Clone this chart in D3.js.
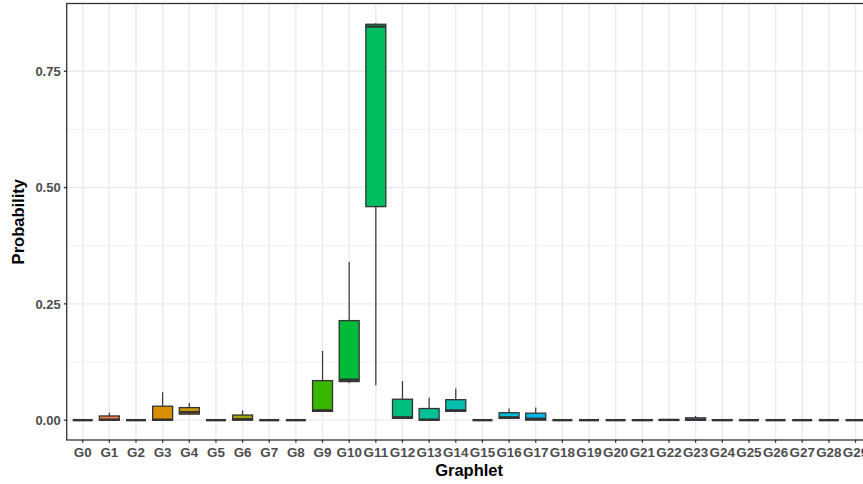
<!DOCTYPE html>
<html>
<head>
<meta charset="utf-8"/>
<script src="https://d3js.org/d3.v7.min.js"></script>
<style type="text/css">
body {
  margin: 0;
  overflow: hidden;
  background: #fff;
  font-family: "Liberation Sans", Arial, Helvetica, sans-serif;
}
</style>
</head>
<body>
<div id="v"></div>
<script type="text/javascript">
// graphlet probability boxplot
var graphlets = d3.range(30).map(function(i) { return "G" + i; });
var whiskerLow  = [0, 0,     0, 0,     0.011, 0, 0,     0, 0, 0.018, 0.080, 0.075, 0.003, 0,     0.017, 0, 0.003, 0,     0, 0, 0, 0,     0,      0,     0,     0, 0, 0, 0, 0];
var q1          = [0, 0,     0, 0,     0.013, 0, 0,     0, 0, 0.019, 0.083, 0.459, 0.004, 0,     0.019, 0, 0.004, 0,     0, 0, 0, 0,     0,      0,     0,     0, 0, 0, 0, 0];
var medians     = [0, 0.001, 0, 0.001, 0.017, 0, 0.002, 0, 0, 0.021, 0.087, 0.846, 0.006, 0.001, 0.021, 0, 0.006, 0.003, 0, 0, 0, 0,     0.0005, 0.001, 0,     0, 0, 0, 0, 0];
var q3          = [0, 0.009, 0, 0.030, 0.027, 0, 0.011, 0, 0, 0.085, 0.214, 0.851, 0.045, 0.025, 0.044, 0, 0.016, 0.015, 0, 0, 0, 0.001, 0.001,  0.005, 0.001, 0, 0, 0, 0, 0];
var whiskerHigh = [0, 0.016, 0, 0.060, 0.037, 0, 0.021, 0, 0, 0.149, 0.340, 0.853, 0.084, 0.048, 0.068, 0, 0.025, 0.027, 0, 0, 0, 0.002, 0.002,  0.009, 0.002, 0, 0, 0, 0, 0];
var yTicks = [0, 0.25, 0.5, 0.75];
var yMinor = [0.125, 0.375, 0.625];

// R style hcl(h, c, l) -> hex (polar Luv)
function hclR(h, c, l) {
  var wu = 0.1978398, wv = 0.4683363;
  var hr = h * Math.PI / 180;
  var U = c * Math.cos(hr), V = c * Math.sin(hr);
  var Y = l > 7.999592 ? Math.pow((l + 16) / 116, 3) : l / 903.3;
  var u = U / (13 * l) + wu, v = V / (13 * l) + wv;
  var X = 9 * Y * u / (4 * v);
  var Z = -X / 3 - 5 * Y + 3 * Y / v;
  function g(x) { return x > 0.00304 ? 1.055 * Math.pow(x, 1 / 2.4) - 0.055 : 12.92 * x; }
  var r = g(3.240479 * X - 1.537150 * Y - 0.498535 * Z);
  var gg = g(-0.969256 * X + 1.875992 * Y + 0.041556 * Z);
  var b = g(0.055648 * X - 0.204043 * Y + 1.057311 * Z);
  function cl(x) { return Math.round(Math.max(0, Math.min(1, x)) * 255); }
  return d3.rgb(cl(r), cl(gg), cl(b)).formatHex();
}
var colors = graphlets.map(function(d, i) { return hclR(15 + 360 / 30 * i, 100, 65); });

var data = graphlets.map(function(g, i) {
  return {name: g, lo: whiskerLow[i], q1: q1[i], med: medians[i], q3: q3[i], hi: whiskerHigh[i], color: colors[i]};
});

var width = 863, height = 484;
var pLeft = 66.7, pRight = 871.5, pTop = 3.5, pBottom = 440;

var svg = d3.select("#v").append("svg")
  .attr("width", width)
  .attr("height", height);

var x = d3.scalePoint().domain(graphlets).range([pLeft, pRight]).padding(0.6);
var maxV = d3.max(whiskerHigh);
var y = d3.scaleLinear().domain([-0.05 * maxV, maxV * 1.05]).range([pBottom, pTop]);
var boxW = x.step() * 0.75;

// grid
var grid = svg.append("g");
grid.selectAll(".minor").data(yMinor).enter().append("line")
  .attr("x1", pLeft).attr("x2", pRight)
  .attr("y1", function(d) { return y(d); }).attr("y2", function(d) { return y(d); })
  .attr("stroke", "#ebebeb").attr("stroke-width", 0.7);
grid.selectAll(".majorY").data(yTicks).enter().append("line")
  .attr("x1", pLeft).attr("x2", pRight)
  .attr("y1", function(d) { return y(d); }).attr("y2", function(d) { return y(d); })
  .attr("stroke", "#ebebeb").attr("stroke-width", 1.4);
grid.selectAll(".majorX").data(graphlets).enter().append("line")
  .attr("x1", function(d) { return x(d); }).attr("x2", function(d) { return x(d); })
  .attr("y1", pTop).attr("y2", pBottom)
  .attr("stroke", "#ebebeb").attr("stroke-width", 1.4);

// boxes
var boxes = svg.append("g").selectAll(".box").data(data).enter().append("g")
  .attr("class", "box");
boxes.append("line")
  .attr("x1", function(d) { return x(d.name); }).attr("x2", function(d) { return x(d.name); })
  .attr("y1", function(d) { return y(d.hi); }).attr("y2", function(d) { return y(d.q3); })
  .attr("stroke", "#333333").attr("stroke-width", 1.2);
boxes.append("line")
  .attr("x1", function(d) { return x(d.name); }).attr("x2", function(d) { return x(d.name); })
  .attr("y1", function(d) { return y(d.q1); }).attr("y2", function(d) { return y(d.lo); })
  .attr("stroke", "#333333").attr("stroke-width", 1.2);
boxes.append("rect")
  .attr("x", function(d) { return x(d.name) - boxW / 2; })
  .attr("width", boxW)
  .attr("y", function(d) { return y(d.q3); })
  .attr("height", function(d) { return y(d.q1) - y(d.q3); })
  .attr("fill", function(d) { return d.color; })
  .attr("stroke", "#333333").attr("stroke-width", 1.3);
boxes.append("line")
  .attr("x1", function(d) { return x(d.name) - boxW / 2; })
  .attr("x2", function(d) { return x(d.name) + boxW / 2; })
  .attr("y1", function(d) { return y(d.med); }).attr("y2", function(d) { return y(d.med); })
  .attr("stroke", "#333333").attr("stroke-width", 2.4);

// panel border
svg.append("rect")
  .attr("x", pLeft).attr("y", pTop)
  .attr("width", pRight - pLeft).attr("height", pBottom - pTop)
  .attr("fill", "none").attr("stroke", "#333333").attr("stroke-width", 1.3);

// y axis
var ya = svg.append("g");
ya.selectAll("line").data(yTicks).enter().append("line")
  .attr("x1", pLeft - 2.8).attr("x2", pLeft)
  .attr("y1", function(d) { return y(d); }).attr("y2", function(d) { return y(d); })
  .attr("stroke", "#333333").attr("stroke-width", 1.3);
ya.selectAll("text").data(yTicks).enter().append("text")
  .attr("x", pLeft - 6)
  .attr("y", function(d) { return y(d); })
  .attr("dy", "0.36em")
  .attr("text-anchor", "end")
  .attr("fill", "#4d4d4d")
  .style("font-size", "13px").style("font-weight", "bold")
  .text(function(d) { return d3.format(".2f")(d); });

// x axis
var xa = svg.append("g");
xa.selectAll("line").data(graphlets).enter().append("line")
  .attr("x1", function(d) { return x(d); }).attr("x2", function(d) { return x(d); })
  .attr("y1", pBottom).attr("y2", pBottom + 2.8)
  .attr("stroke", "#333333").attr("stroke-width", 1.3);
xa.selectAll("text").data(graphlets).enter().append("text")
  .attr("x", function(d) { return x(d); })
  .attr("y", 457)
  .attr("text-anchor", "middle")
  .attr("fill", "#4d4d4d")
  .style("font-size", "13.4px").style("font-weight", "bold")
  .text(function(d) { return d; });

// titles
svg.append("text")
  .attr("x", (pLeft + pRight) / 2)
  .attr("y", 476)
  .attr("text-anchor", "middle")
  .style("font-size", "16.5px").style("font-weight", "bold")
  .text("Graphlet");
svg.append("text")
  .attr("transform", "translate(24," + ((pTop + pBottom) / 2) + ") rotate(-90)")
  .attr("text-anchor", "middle")
  .style("font-size", "16.5px").style("font-weight", "bold")
  .text("Probability");
</script>
</body>
</html>
